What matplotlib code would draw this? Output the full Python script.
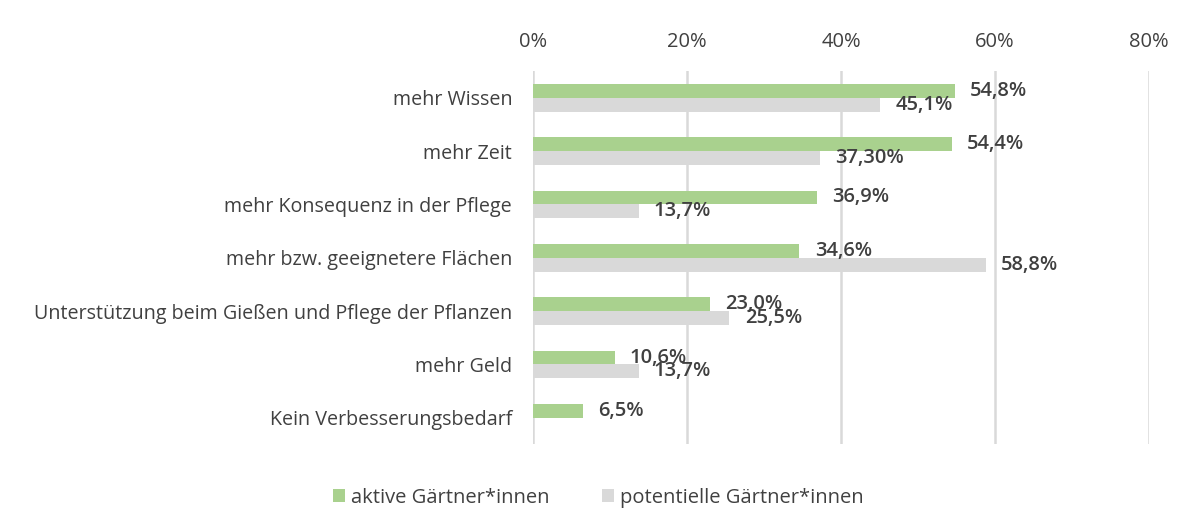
import matplotlib.pyplot as plt
import numpy as np
from matplotlib.ticker import PercentFormatter

# ---------------- Daten ----------------
categories = [
    "mehr Wissen",
    "mehr Zeit",
    "mehr Konsequenz in der Pflege",
    "mehr bzw. geeignetere Flächen",
    "Unterstützung beim Gießen und Pflege der Pflanzen",
    "mehr Geld",
    "Kein Verbesserungsbedarf",
]
aktive = [54.8, 54.4, 36.9, 34.6, 23.0, 10.6, 6.5]
potentielle = [45.1, 37.3, 13.7, 58.8, 25.5, 13.7, np.nan]
aktive_labels = ["54,8%", "54,4%", "36,9%", "34,6%", "23,0%", "10,6%", "6,5%"]
potentielle_labels = ["45,1%", "37,30%", "13,7%", "58,8%", "25,5%", "13,7%", ""]

GREEN = "#a9d18e"
GREY = "#d9d9d9"
TEXT = "#404040"

plt.rcParams["font.family"] = ["Open Sans", "DejaVu Sans"]

fig = plt.figure(figsize=(11.96, 5.26), dpi=100)
ax = fig.add_axes([0.4457, 0.155, 0.5150, 0.71])

y = np.arange(len(categories))
h = 0.26
ax.barh(y - h / 2, aktive, height=h, color=GREEN, label="aktive Gärtner*innen", zorder=3)
ax.barh(y + h / 2, potentielle, height=h, color=GREY, label="potentielle Gärtner*innen", zorder=3)

# Beschriftungen an den Balkenenden
for yi, v, t in zip(y, aktive, aktive_labels):
    ax.annotate(t, (v, yi - h / 2), xytext=(11, 0), textcoords="offset points",
                ha="left", va="center", fontsize=14.5, fontweight="semibold", color=TEXT, zorder=4)
for yi, v, t in zip(y, potentielle, potentielle_labels):
    if t:
        ax.annotate(t, (v, yi + h / 2), xytext=(11, 0), textcoords="offset points",
                    ha="left", va="center", fontsize=14.5, fontweight="semibold", color=TEXT, zorder=4)

ax.set_xlim(0, 80)
ax.set_ylim(6.5, -0.5)
ax.xaxis.set_major_locator(plt.MultipleLocator(20))
ax.xaxis.set_major_formatter(PercentFormatter(decimals=0))
ax.xaxis.tick_top()
ax.set_yticks(y)
ax.set_yticklabels(categories)
ax.tick_params(axis="both", length=0, colors=TEXT)
ax.tick_params(axis="x", pad=14, labelsize=14.5)
ax.tick_params(axis="y", pad=15, labelsize=14.2)
ax.grid(axis="x", color=GREY, linewidth=1.8, zorder=0)
for s in ax.spines.values():
    s.set_visible(False)

fig.legend(loc="lower center", bbox_to_anchor=(0.5, 0.0), ncol=2, frameon=False,
           fontsize=14.5, labelcolor=TEXT, handlelength=0.6, handleheight=0.6,
           handletextpad=0.3, columnspacing=2.6)

fig.savefig("out.png", dpi=100)
